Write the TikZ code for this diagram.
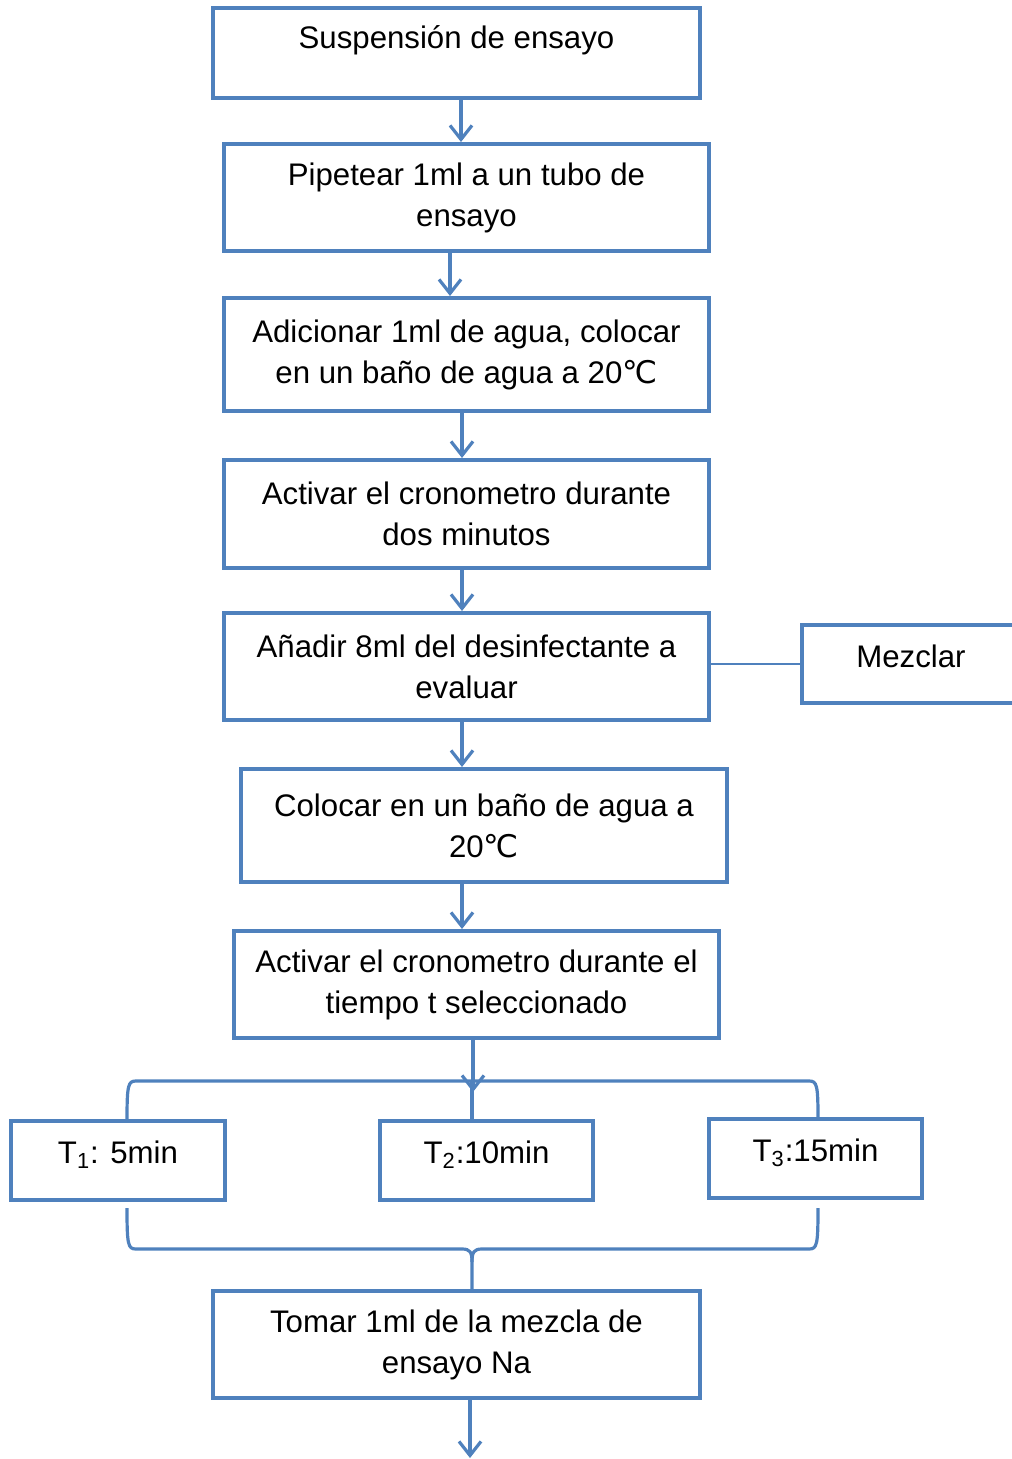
\documentclass[tikz,border=0pt]{standalone}
\usepackage{fontspec}
\setmainfont{Liberation Sans}
\newfontfamily\degfont{DejaVu Sans}
\usetikzlibrary{arrows.meta,calc}
\definecolor{boxblue}{RGB}{79,129,189}
\newcommand{\gradC}{{\degfont ℃}}

\tikzset{
  paso/.style={draw=boxblue, line width=2pt, rectangle, align=center, inner sep=0pt,
               font=\fontsize{15.6}{20.5}\selectfont},
  corto/.style={text height=11pt, text depth=8pt},
  flecha/.style={draw=boxblue, line width=1.6pt, -{Straight Barb[length=7pt,width=11pt]}},
  llave/.style={draw=boxblue, line width=1.6pt},
}

\begin{document}
\begin{tikzpicture}[x=0.5pt, y=-0.5pt]
    \useasboundingbox (0,0) rectangle (1011,1459);
    % Steps of the procedure
    \node[paso, minimum width=243.5pt, minimum height=45pt, text height=11pt, text depth=15pt]
                                                              (b1) at (456.5,53)    {Suspensión de ensayo};
    \node[paso, minimum width=242.5pt, minimum height=53.5pt] (b2) at (466.5,197.5) {Pipetear 1ml a un tubo de\\ensayo};
    \node[paso, minimum width=242.5pt, minimum height=56.5pt] (b3) at (466.5,354.5) {Adicionar 1ml de agua, colocar\\en un baño de agua a 20\gradC};
    \node[paso, minimum width=242.5pt, minimum height=54pt]   (b4) at (466.5,514)   {Activar el cronometro durante\\dos minutos};
    \node[paso, minimum width=242.5pt, minimum height=53.5pt] (b5) at (466.5,666.5) {Añadir 8ml del desinfectante a\\evaluar};
    \node[paso, minimum width=243pt,   minimum height=56.5pt] (b6) at (484,825.5)   {Colocar en un baño de agua a\\20\gradC};
    \node[paso, minimum width=242.5pt, minimum height=53.5pt] (b7) at (476.5,984.5) {Activar el cronometro durante el\\tiempo t seleccionado};
    \node[paso, minimum width=243.5pt, minimum height=53.5pt] (b8) at (456.5,1344.5) {Tomar 1ml de la mezcla de\\ensayo Na};
    % Side step
    \node[paso, corto, minimum width=109pt,   minimum height=39pt]   (mix) at (911,664)    {Mezclar};
    % Times
    \node[paso, corto, minimum width=107pt,   minimum height=39.5pt] (t1) at (118,1160.5)   {T\textsubscript{1}: 5min};
    \node[paso, corto, minimum width=106.5pt, minimum height=39.5pt] (t2) at (486.5,1160.5) {T\textsubscript{2}:10min};
    \node[paso, corto, minimum width=106.5pt, minimum height=39.5pt] (t3) at (815.5,1158.5) {T\textsubscript{3}:15min};

    % Arrow columns
    \path (b1.south) ++(4.5,0)   coordinate (a1);
    \path (b2.south) ++(-16.5,0) coordinate (a2);
    \path (b3.south) ++(-4.5,0)  coordinate (a3);
    \path (b4.south) ++(-4.5,0)  coordinate (a4);
    \path (b5.south) ++(-4.5,0)  coordinate (a5);
    \path (b6.south) ++(-22,0)   coordinate (a6);
    \path (b7.south) ++(-3.5,0)  coordinate (a7);
    \path (b8.south) ++(13.5,0)  coordinate (a8);
    \coordinate (split) at (473,1092);
    \coordinate (fin)   at (470,1458);

    \draw[flecha] (a1) -- (a1 |- b2.north);
    \draw[flecha] (a2) -- (a2 |- b3.north);
    \draw[flecha] (a3) -- (a3 |- b4.north);
    \draw[flecha] (a4) -- (a4 |- b5.north);
    \draw[flecha] (a5) -- (a5 |- b6.north);
    \draw[flecha] (a6) -- (a6 |- b7.north);
    \draw[flecha] (a7) -- (split);
    \draw[flecha] (a8) -- (fin);
    \draw[boxblue, line width=0.75pt] (b5.east |- mix.west) -- (mix.west);

    % Upper brace
    \draw[llave] (127,1121) .. controls (127,1085) and (128,1081) .. (136,1081)
        -- (809,1081) .. controls (817,1081) and (818,1085) .. (818,1119);
    \draw[llave] (472,1081) -- (472,1121);
    % Lower brace
    \draw[llave] (127,1208) .. controls (127,1245) and (128,1249) .. (136,1249)
        -- (462,1249) .. controls (470,1249) and (472,1252) .. (472,1262) -- (472,1291);
    \draw[llave] (818,1208) .. controls (818,1245) and (817,1249) .. (809,1249)
        -- (482,1249) .. controls (474,1249) and (472,1252) .. (472,1262);
\end{tikzpicture}
\end{document}
